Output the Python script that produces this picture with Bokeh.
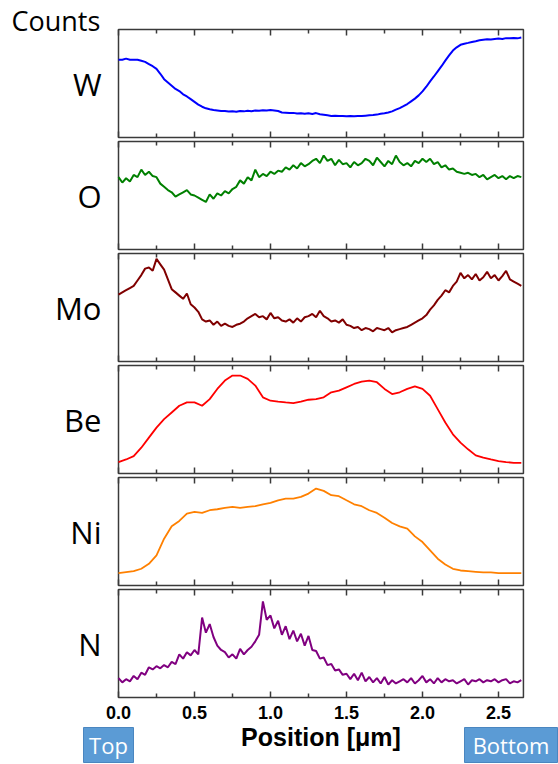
import numpy as np
from bokeh.plotting import figure
from bokeh.models import Range1d
from bokeh.core.properties import value
from bokeh.embed import file_html
from bokeh.resources import INLINE

# ---------------- data (normalised counts) ----------------
elements = ["W", "O", "Mo", "Be", "Ni", "N"]
colors = ["#0000ff", "#008000", "#800000", "#ff0000", "#ff8000", "#800080"]
line_widths = [2.0, 2.0, 2.0, 1.8, 1.8, 2.0]

x_fine = np.arange(107) * 0.025     # sample positions, µm
x_coarse = np.arange(54) * 0.05     # sample positions, µm

W = [0.72, 0.72, 0.73, 0.72, 0.72, 0.72, 0.71, 0.70, 0.68, 0.66,
     0.635, 0.59, 0.54, 0.51, 0.48, 0.45, 0.43, 0.40, 0.38, 0.355,
     0.33, 0.305, 0.285, 0.27, 0.262, 0.255, 0.25, 0.245, 0.245, 0.24,
     0.242, 0.238, 0.245, 0.242, 0.248, 0.244, 0.25, 0.247, 0.252, 0.25,
     0.254, 0.25, 0.245, 0.232, 0.23, 0.226, 0.228, 0.222, 0.225, 0.22,
     0.224, 0.218, 0.226, 0.215, 0.21, 0.205, 0.20, 0.202, 0.198, 0.20,
     0.196, 0.198, 0.197, 0.20, 0.198, 0.202, 0.205, 0.208, 0.212, 0.22,
     0.225, 0.232, 0.242, 0.258, 0.272, 0.29, 0.31, 0.335, 0.36, 0.39,
     0.427, 0.47, 0.52, 0.565, 0.613, 0.66, 0.712, 0.76, 0.805, 0.835,
     0.858, 0.868, 0.876, 0.885, 0.892, 0.90, 0.905, 0.91, 0.908, 0.912,
     0.916, 0.912, 0.92, 0.918, 0.922, 0.918, 0.925]

O = [0.67, 0.62, 0.66, 0.63, 0.69, 0.67, 0.74, 0.69, 0.72, 0.68,
     0.67, 0.61, 0.58, 0.55, 0.53, 0.49, 0.51, 0.53, 0.55, 0.51,
     0.50, 0.48, 0.46, 0.44, 0.51, 0.47, 0.52, 0.50, 0.54, 0.52,
     0.56, 0.58, 0.64, 0.61, 0.67, 0.64, 0.74, 0.67, 0.70, 0.68,
     0.72, 0.70, 0.73, 0.72, 0.76, 0.74, 0.78, 0.75, 0.80, 0.77,
     0.79, 0.82, 0.84, 0.80, 0.87, 0.82, 0.84, 0.78, 0.83, 0.79,
     0.80, 0.76, 0.81, 0.78, 0.80, 0.84, 0.82, 0.78, 0.85, 0.81,
     0.77, 0.82, 0.79, 0.87, 0.81, 0.78, 0.80, 0.77, 0.82, 0.80,
     0.84, 0.81, 0.84, 0.79, 0.81, 0.76, 0.78, 0.74, 0.75, 0.72,
     0.71, 0.70, 0.71, 0.69, 0.70, 0.67, 0.69, 0.65, 0.67, 0.69,
     0.66, 0.68, 0.65, 0.68, 0.66, 0.68, 0.67]

Mo = [0.62, 0.64, 0.66, 0.68, 0.70, 0.75, 0.80, 0.86, 0.87, 0.84,
      0.95, 0.90, 0.85, 0.76, 0.67, 0.64, 0.61, 0.58, 0.63, 0.53,
      0.50, 0.46, 0.39, 0.37, 0.38, 0.34, 0.37, 0.33, 0.35, 0.33,
      0.32, 0.34, 0.35, 0.37, 0.40, 0.42, 0.44, 0.41, 0.42, 0.39,
      0.45, 0.40, 0.41, 0.38, 0.37, 0.39, 0.36, 0.40, 0.37, 0.41,
      0.42, 0.44, 0.41, 0.47, 0.42, 0.40, 0.37, 0.38, 0.36, 0.39,
      0.34, 0.33, 0.31, 0.32, 0.29, 0.31, 0.30, 0.28, 0.31, 0.30,
      0.29, 0.31, 0.27, 0.29, 0.30, 0.31, 0.32, 0.34, 0.36, 0.38,
      0.40, 0.43, 0.48, 0.52, 0.57, 0.61, 0.66, 0.64, 0.70, 0.74,
      0.82, 0.77, 0.80, 0.76, 0.81, 0.75, 0.78, 0.83, 0.77, 0.80,
      0.75, 0.79, 0.84, 0.76, 0.74, 0.72, 0.70]

Be = [0.106, 0.130, 0.161, 0.239, 0.332, 0.425, 0.503, 0.565, 0.627, 0.658,
      0.658, 0.627, 0.689, 0.783, 0.860, 0.907, 0.907, 0.876, 0.814, 0.705,
      0.674, 0.665, 0.658, 0.652, 0.665, 0.683, 0.689, 0.705, 0.752, 0.767,
      0.798, 0.829, 0.851, 0.860, 0.845, 0.783, 0.736, 0.752, 0.783, 0.807,
      0.783, 0.720, 0.596, 0.472, 0.363, 0.286, 0.224, 0.168, 0.146, 0.130,
      0.115, 0.106, 0.099, 0.099]

Ni = [0.115, 0.124, 0.133, 0.155, 0.201, 0.279, 0.433, 0.548, 0.598, 0.666,
      0.681, 0.672, 0.697, 0.706, 0.718, 0.728, 0.718, 0.728, 0.734, 0.752,
      0.765, 0.789, 0.805, 0.805, 0.820, 0.851, 0.898, 0.876, 0.836, 0.827,
      0.789, 0.752, 0.734, 0.697, 0.672, 0.628, 0.579, 0.548, 0.526, 0.455,
      0.402, 0.325, 0.248, 0.195, 0.155, 0.139, 0.133, 0.127, 0.121, 0.121,
      0.115, 0.115, 0.115, 0.115]

N = [0.18, 0.14, 0.17, 0.15, 0.20, 0.17, 0.23, 0.21, 0.28, 0.26,
     0.29, 0.27, 0.30, 0.28, 0.33, 0.31, 0.40, 0.36, 0.42, 0.39,
     0.44, 0.40, 0.74, 0.60, 0.68, 0.56, 0.48, 0.44, 0.42, 0.37,
     0.40, 0.36, 0.45, 0.40, 0.44, 0.47, 0.52, 0.58, 0.89, 0.72,
     0.76, 0.64, 0.71, 0.58, 0.66, 0.54, 0.62, 0.52, 0.59, 0.48,
     0.57, 0.44, 0.43, 0.36, 0.37, 0.30, 0.31, 0.25, 0.26, 0.21,
     0.22, 0.17, 0.22, 0.16, 0.23, 0.15, 0.19, 0.14, 0.18, 0.13,
     0.19, 0.12, 0.16, 0.13, 0.15, 0.17, 0.14, 0.18, 0.13, 0.16,
     0.20, 0.14, 0.17, 0.13, 0.18, 0.14, 0.17, 0.15, 0.16, 0.13,
     0.15, 0.17, 0.12, 0.16, 0.15, 0.17, 0.14, 0.16, 0.15, 0.17,
     0.14, 0.16, 0.17, 0.13, 0.15, 0.14, 0.16]

series = [(x_fine, W), (x_fine, O), (x_fine, Mo),
          (x_coarse, Be), (x_coarse, Ni), (x_fine, N)]

tick_values = [0.0, 0.5, 1.0, 1.5, 2.0, 2.5]
tick_labels = ["0.0", "0.5", "1.0", "1.5", "2.0", "2.5"]
minor_ticks = [0.25, 0.75, 1.25, 1.75, 2.25]
x_label = "Position [\u03bcm]"
y_title = "Counts"
end_labels = ["Top", "Bottom"]

# ---------------- layout (pixel geometry of the page) ----------------
W_PX, H_PX = 558, 764
PANEL_LEFT_PX = 118          # left edge of the panels
PX_PER_UM = 152.0
X_MAX = 2.664                # right edge of the panels, µm
PANEL_TOP0 = 29              # top of first panel (px from top)
PANEL_H = 108
PANEL_STEP = 112
FRAME = "#3a3a3a"


def ux(px):        # page x pixel -> µm
    return (px - PANEL_LEFT_PX) / PX_PER_UM


def uy(py):        # page y pixel (from top) -> y data
    return H_PX - py


p = figure(width=W_PX, height=H_PX,
           x_range=Range1d(ux(0), ux(W_PX)), y_range=Range1d(0, H_PX),
           x_axis_location=None, y_axis_location=None,
           output_backend="svg", toolbar_location=None,
           min_border=0, min_border_left=0, min_border_right=0,
           min_border_top=0, min_border_bottom=0)
p.grid.visible = False
p.outline_line_color = None
p.background_fill_color = "white"
p.border_fill_color = "white"

seg = dict(x0=[], y0=[], x1=[], y1=[])
for i, (el, col, lw, (xs, ys)) in enumerate(zip(elements, colors, line_widths, series)):
    top_px = PANEL_TOP0 + PANEL_STEP * i
    y_top = uy(top_px)
    y_bot = uy(top_px + PANEL_H)

    # panel frame
    p.quad(left=[0], right=[X_MAX], bottom=[y_bot], top=[y_top],
           fill_color=None, line_color=FRAME, line_width=1.5)

    # curve
    p.line(list(xs), [y_bot + v * PANEL_H for v in ys],
           line_color=col, line_width=lw)

    # inward ticks on top and bottom edges
    for t in tick_values:
        for ya, yb in ((y_bot, y_bot + 6), (y_top, y_top - 6)):
            seg["x0"].append(t); seg["x1"].append(t)
            seg["y0"].append(ya); seg["y1"].append(yb)
    for t in minor_ticks:
        for ya, yb in ((y_bot, y_bot + 4), (y_top, y_top - 4)):
            seg["x0"].append(t); seg["x1"].append(t)
            seg["y0"].append(ya); seg["y1"].append(yb)

    # element name
    p.text(x=[ux(101)], y=[(y_top + y_bot) / 2], text=[el],
           text_font=value("Open Sans"), text_font_size="31px",
           text_align="right", text_baseline="middle", text_color="black")

p.segment(x0="x0", y0="y0", x1="x1", y1="y1", source=seg,
          line_color=FRAME, line_width=1.5)

# y title
p.text(x=[ux(11)], y=[uy(20)], text=[y_title],
       text_font=value("Open Sans"), text_font_size="27px",
       text_align="left", text_baseline="middle", text_color="black")

# x tick labels and x label
p.text(x=tick_values, y=[uy(711.5)] * len(tick_values), text=tick_labels,
       text_font=value("Liberation Sans"), text_font_style="bold",
       text_font_size="18px", text_align="center", text_baseline="middle",
       text_color="black")
p.text(x=[X_MAX / 2], y=[uy(736)], text=[x_label],
       text_font=value("Liberation Sans"), text_font_style="bold",
       text_font_size="25px", text_align="center", text_baseline="middle",
       text_color="black")

# "Top" / "Bottom" markers
box_left = [ux(83), ux(464)]
box_right = [ux(133), ux(557)]
p.quad(left=box_left, right=box_right, bottom=[uy(762)] * 2, top=[uy(727)] * 2,
       fill_color="#5b9bd5", line_color="#4a86c0", line_width=1)
p.text(x=[(a + b) / 2 for a, b in zip(box_left, box_right)], y=[uy(744.5)] * 2,
       text=end_labels, text_font=value("Open Sans"), text_font_size="22px",
       text_align="center", text_baseline="middle", text_color="white")

open("out.html", "w").write(file_html(p, INLINE))
